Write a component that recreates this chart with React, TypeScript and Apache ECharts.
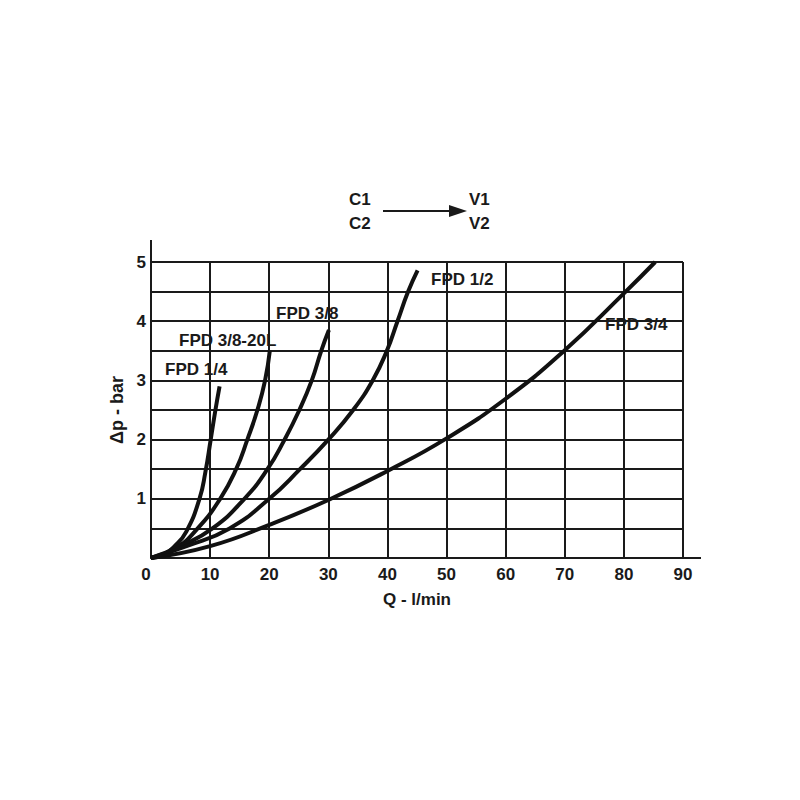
import React, { useEffect, useRef } from "react";
import * as echarts from "echarts";

const xTicks = [0, 10, 20, 30, 40, 50, 60, 70, 80, 90];
const yTicks = [1, 2, 3, 4, 5];

const fpd14: [number, number][] = [[0, 0], [2, 0.05], [4, 0.2], [6, 0.45], [8.2, 1], [9.2, 1.45], [10.1, 2], [10.9, 2.5], [11.6, 2.9]];
const fpd3820: [number, number][] = [[0, 0], [4, 0.15], [7.9, 0.5], [11.7, 1], [14.4, 1.5], [16.3, 2], [18, 2.5], [19.3, 3], [20.1, 3.5]];
const fpd38: [number, number][] = [[0, 0], [5, 0.2], [10.4, 0.5], [15.8, 1], [19.7, 1.5], [22.6, 2], [25.1, 2.5], [27.2, 3], [28.8, 3.5], [30.1, 3.85]];
const fpd12: [number, number][] = [[0, 0], [6, 0.2], [13.3, 0.5], [20, 1], [25.2, 1.5], [30, 2], [34.2, 2.5], [37.5, 3], [39.9, 3.5], [41.7, 4], [43.5, 4.5], [45.1, 4.86]];
const fpd34: [number, number][] = [[0, 0], [10, 0.2], [20, 0.56], [30, 0.98], [40, 1.47], [50, 2.02], [60, 2.69], [70, 3.51], [80, 4.47], [85.3, 5]];

const seriesNames = ["FPD 1/4", "FPD 3/8-20L", "FPD 3/8", "FPD 1/2", "FPD 3/4"];
const seriesData = [fpd14, fpd3820, fpd38, fpd12, fpd34];

const FONT = "'Liberation Sans', Arial, sans-serif";
const INK = "#1a1a1a";
const FS = 17;

export default function App() {
  const ref = useRef<HTMLDivElement>(null);
  useEffect(() => {
    if (!ref.current) return;
    const chart = echarts.init(ref.current, undefined, { renderer: "svg" });
    const txt = (text: string, x: number, y: number) => ({
      type: "text",
      x,
      y,
      style: {
        text,
        fill: INK,
        font: `bold ${FS}px ${FONT}`,
        textVerticalAlign: "middle",
      },
    });
    chart.setOption({
      animation: false,
      backgroundColor: "#ffffff",
      grid: { left: 151, right: 117, top: 262, bottom: 242 },
      xAxis: {
        type: "value",
        min: 0,
        max: 90,
        interval: 10,
        name: "Q - l/min",
        nameLocation: "middle",
        nameGap: 33,
        nameTextStyle: { color: INK, fontFamily: FONT, fontWeight: "bold", fontSize: FS },
        axisLine: { show: true, lineStyle: { color: INK, width: 2 } },
        axisTick: { show: false },
        axisLabel: {
          color: INK,
          fontFamily: FONT,
          fontWeight: "bold",
          fontSize: FS,
          margin: 8,
          formatter: (v: number) => (v === 0 ? "{z|0}" : xTicks.includes(v) ? String(v) : ""),
          rich: {
            z: { color: INK, fontFamily: FONT, fontWeight: "bold", fontSize: FS, padding: [0, 10, 0, 0] },
          },
        },
        splitLine: { show: true, lineStyle: { color: INK, width: 2 } },
      },
      yAxis: {
        type: "value",
        min: 0,
        max: 5,
        interval: 0.5,
        name: "Δp - bar",
        nameLocation: "middle",
        nameRotate: 90,
        nameGap: 22,
        nameTextStyle: { color: INK, fontFamily: FONT, fontWeight: "bold", fontSize: 18 },
        axisLine: { show: true, lineStyle: { color: INK, width: 2 } },
        axisTick: { show: false },
        axisLabel: {
          color: INK,
          fontFamily: FONT,
          fontWeight: "bold",
          fontSize: FS,
          margin: 5,
          formatter: (v: number) => (yTicks.includes(v) ? String(v) : ""),
        },
        splitLine: { show: true, lineStyle: { color: INK, width: 2 } },
      },
      series: seriesData.map((d, i) => ({
        type: "line",
        name: seriesNames[i],
        data: d,
        smooth: 0.5,
        showSymbol: false,
        lineStyle: { color: "#111", width: 4 },
        z: 5,
      })),
      graphic: [
        { type: "line", shape: { x1: 151, y1: 262, x2: 151, y2: 240 }, style: { stroke: INK, lineWidth: 2 } },
        { type: "line", shape: { x1: 683, y1: 558, x2: 701, y2: 558 }, style: { stroke: INK, lineWidth: 2 } },
        txt("C1", 349, 199),
        txt("C2", 349, 223),
        txt("V1", 469, 199),
        txt("V2", 469, 223),
        { type: "line", shape: { x1: 383, y1: 211, x2: 452, y2: 211 }, style: { stroke: INK, lineWidth: 2 } },
        { type: "polygon", shape: { points: [[449, 205], [467, 211], [449, 217]] }, style: { fill: INK } },
        txt("FPD 1/4", 165, 369),
        txt("FPD 3/8-20L", 179, 340),
        txt("FPD 3/8", 276, 313),
        txt("FPD 1/2", 431, 279),
        txt("FPD 3/4", 605, 324),
      ],
    });
    return () => chart.dispose();
  }, []);
  return (
    <div
      ref={ref}
      style={{ position: "absolute", left: 0, top: 0, width: 800, height: 800, background: "#fff" }}
    />
  );
}
